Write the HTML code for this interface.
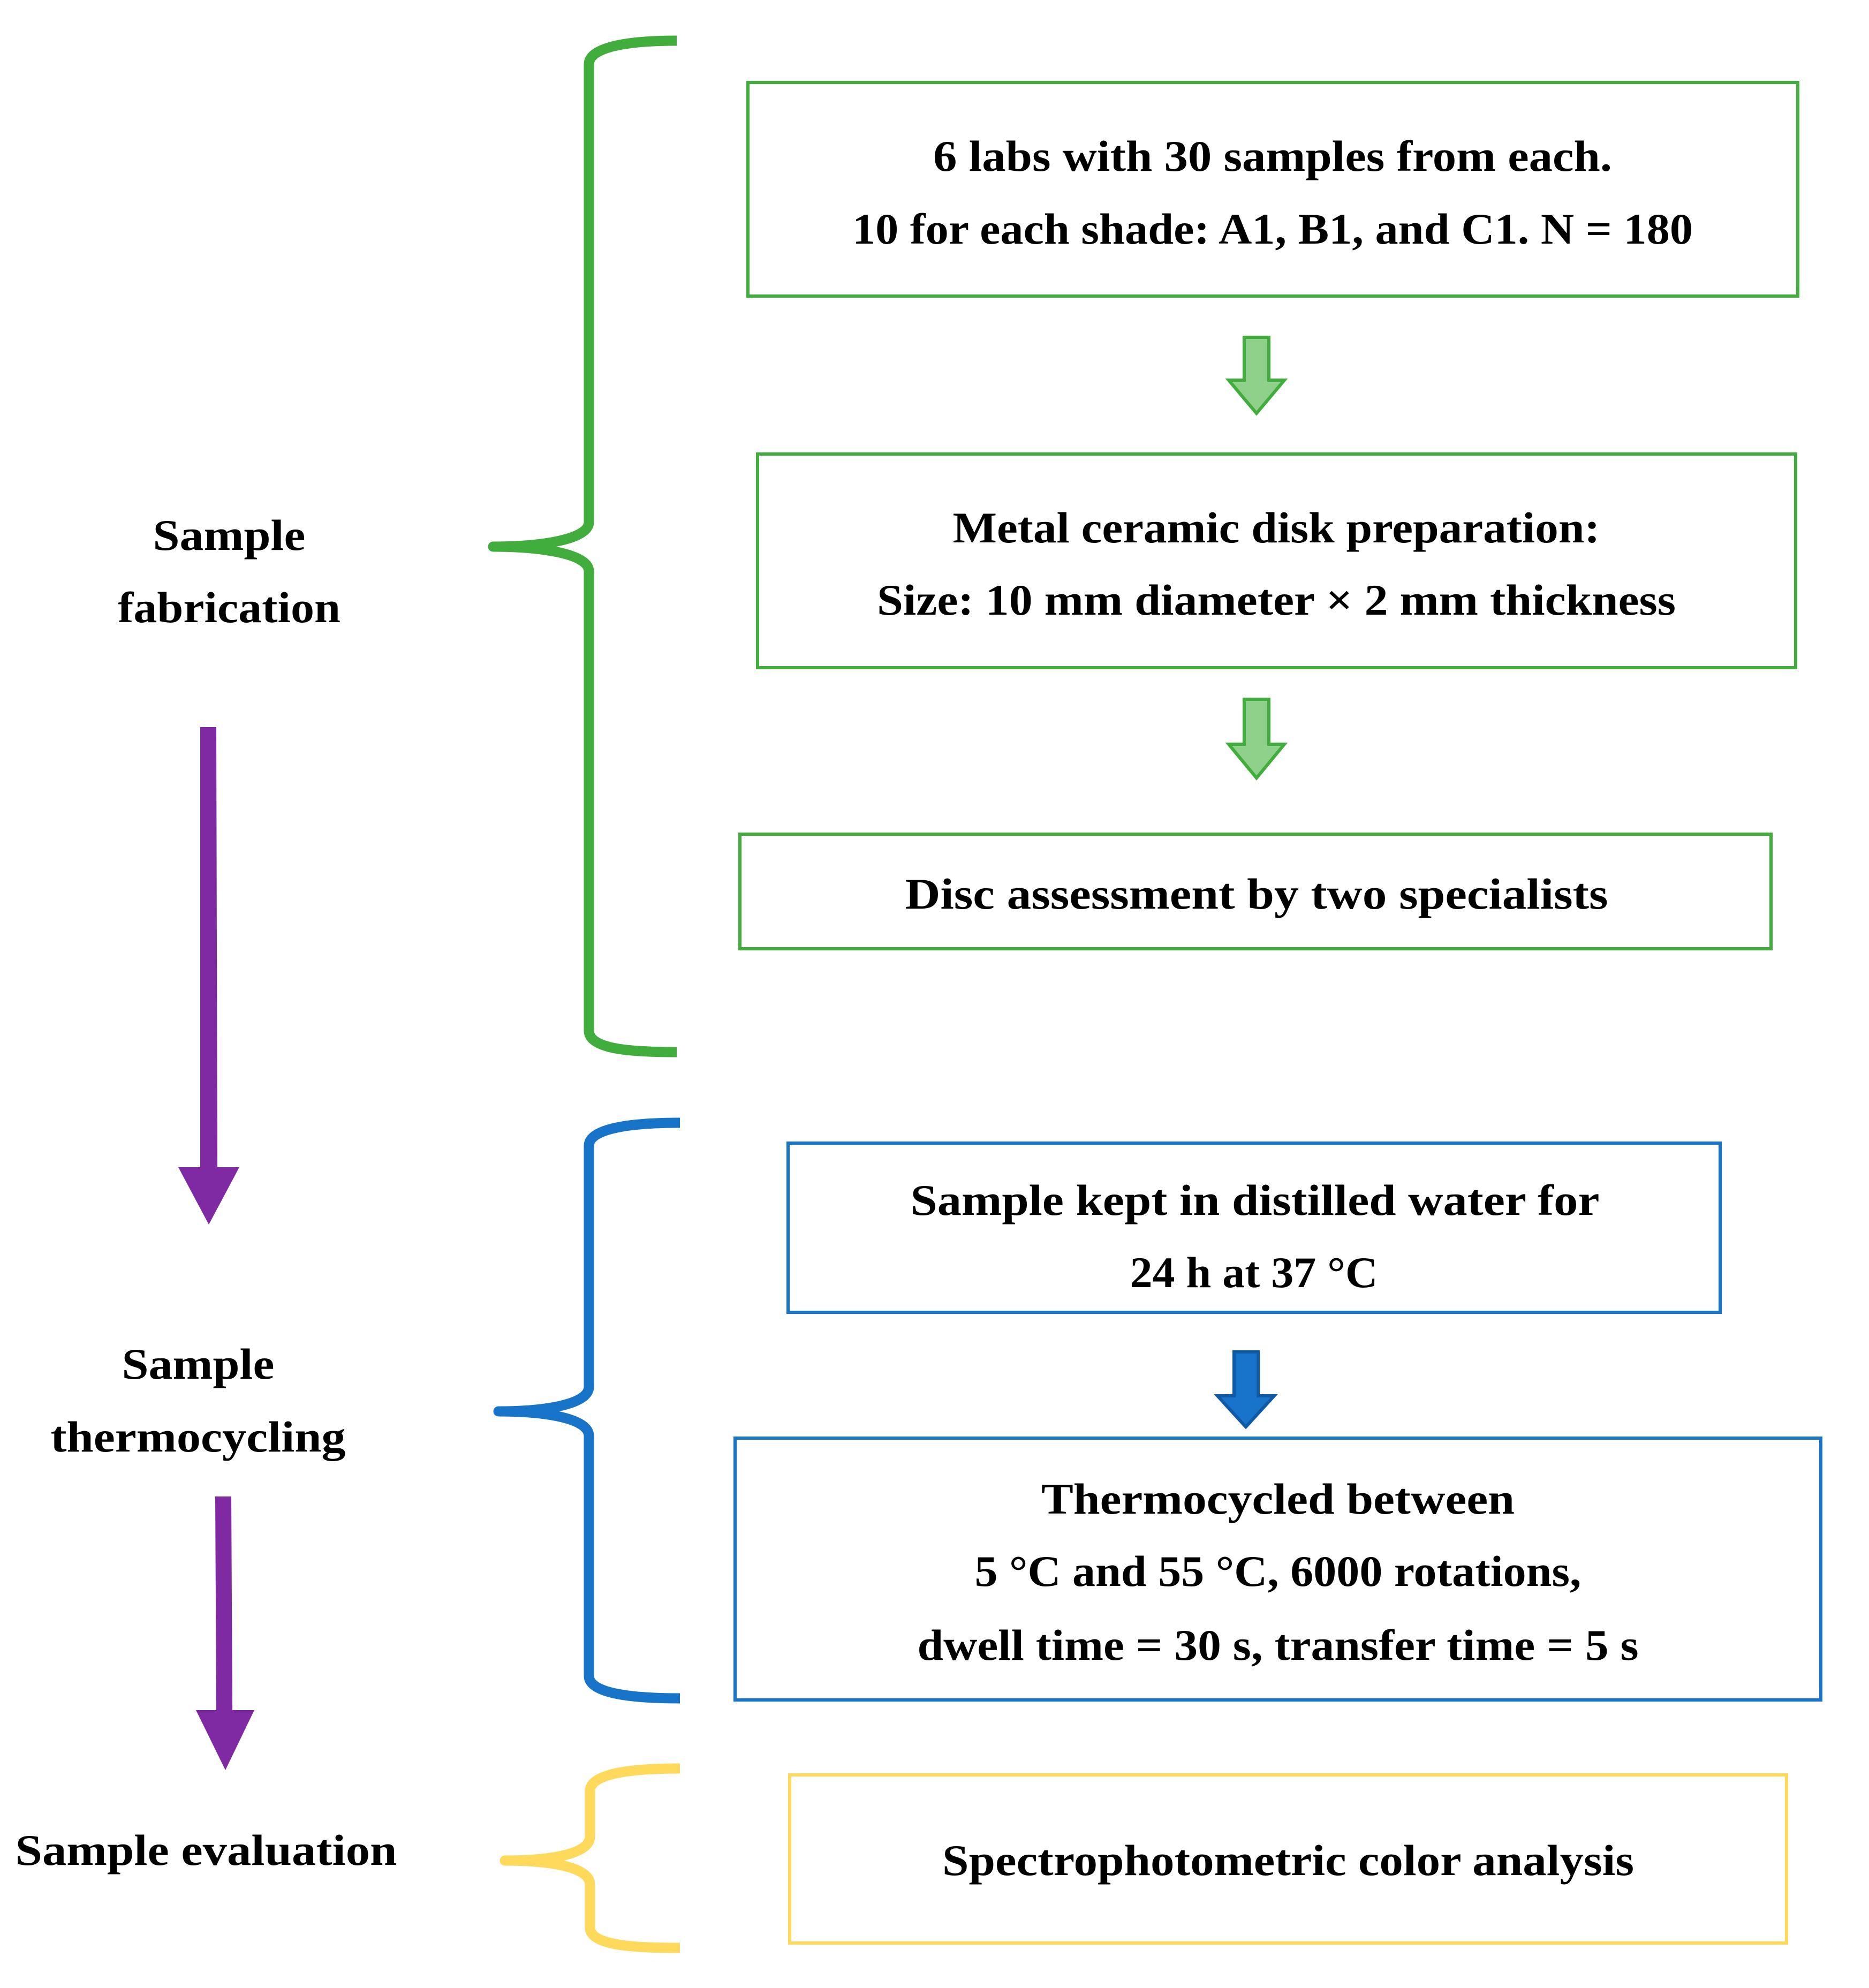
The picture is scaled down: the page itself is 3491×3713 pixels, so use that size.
<!DOCTYPE html>
<html><head><meta charset="utf-8"><style>html,body{margin:0;padding:0;background:#fff}svg{display:block}</style></head>
<body>
<svg width="3491" height="3713" viewBox="0 0 3491 3713" xmlns="http://www.w3.org/2000/svg" font-family="'Liberation Serif', serif" font-weight="bold" font-size="82" text-anchor="middle">
<!-- braces -->
<g fill="none" stroke-width="19" stroke-linejoin="round">
<path d="M1264,76 C1180,76 1100,86 1100,120 L1100,975 C1100,1010 1000,1021 921,1021 C1000,1021 1100,1032 1100,1067 L1100,1925 C1100,1960 1180,1965 1264,1965" stroke="#41ad3c"/>
<path d="M1270,2097 C1190,2097 1100,2105 1100,2140 L1100,2590 C1100,2625 1010,2636 931,2636 C1010,2636 1100,2647 1100,2682 L1100,3130 C1100,3165 1190,3172 1270,3172" stroke="#1874c9"/>
<path d="M1270,3303 C1190,3303 1102,3310 1102,3345 L1102,3430 C1102,3465 1020,3475 943,3475 C1020,3475 1102,3485 1102,3520 L1102,3600 C1102,3635 1190,3638 1270,3638" stroke="#ffd95c"/>
</g>
<!-- boxes -->
<g fill="none" stroke-width="6">
<rect x="1397" y="154" width="1961" height="399" stroke="#41ad3c"/>
<rect x="1415" y="848" width="1939" height="399" stroke="#41ad3c"/>
<rect x="1382" y="1558" width="1926" height="214" stroke="#41ad3c"/>
<rect x="1472" y="2135" width="1741" height="316" stroke="#1874c9"/>
<rect x="1373" y="2686" width="2028" height="489" stroke="#1874c9"/>
<rect x="1475" y="3315" width="1862" height="314" stroke="#ffd95c"/>
</g>
<!-- block arrows -->
<path d="M2324,630 L2370,630 L2370,710 L2399,710 L2347,772 L2295,710 L2324,710 Z" fill="#8fd18a" stroke="#41ad3c" stroke-width="6"/>
<path d="M2324,1306 L2370,1306 L2370,1390 L2399,1390 L2347,1453 L2295,1390 L2324,1390 Z" fill="#8fd18a" stroke="#41ad3c" stroke-width="6"/>
<path d="M2305,2525 L2350,2525 L2350,2607 L2380,2607 L2327,2665 L2274,2607 L2305,2607 Z" fill="#1874c9" stroke="#0f5aa6" stroke-width="6"/>
<!-- purple arrows -->
<path d="M374,1358 L404,1358 L406,2180 L447,2180 L390,2287 L333,2180 L374,2180 Z" fill="#7f2aa3"/>
<path d="M402,2795 L432,2795 L434,3194 L475,3194 L421,3306 L366,3194 L404,3194 Z" fill="#7f2aa3"/>
<!-- text -->
<g lengthAdjust="spacingAndGlyphs">
<text x="2377" y="319" textLength="1268" lengthAdjust="spacingAndGlyphs">6 labs with 30 samples from each.</text>
<text x="2377" y="455" textLength="1570" lengthAdjust="spacingAndGlyphs">10 for each shade: A1, B1, and C1. N = 180</text>
<text x="2384" y="1013" textLength="1209" lengthAdjust="spacingAndGlyphs">Metal ceramic disk preparation:</text>
<text x="2384" y="1148" textLength="1492" lengthAdjust="spacingAndGlyphs">Size: 10 mm diameter × 2 mm thickness</text>
<text x="2347" y="1697" textLength="1313" lengthAdjust="spacingAndGlyphs">Disc assessment by two specialists</text>
<text x="2344" y="2269" textLength="1287" lengthAdjust="spacingAndGlyphs">Sample kept in distilled water for</text>
<text x="2342" y="2404" textLength="463" lengthAdjust="spacingAndGlyphs">24 h at 37 °C</text>
<text x="2387" y="2827" textLength="884" lengthAdjust="spacingAndGlyphs">Thermocycled between</text>
<text x="2387" y="2962" textLength="1133" lengthAdjust="spacingAndGlyphs">5 °C and 55 °C, 6000 rotations,</text>
<text x="2387" y="3100" textLength="1347" lengthAdjust="spacingAndGlyphs">dwell time = 30 s, transfer time = 5 s</text>
<text x="2406" y="3502" textLength="1292" lengthAdjust="spacingAndGlyphs">Spectrophotometric color analysis</text>
<text x="428" y="1027" textLength="285" lengthAdjust="spacingAndGlyphs">Sample</text>
<text x="428" y="1162" textLength="416" lengthAdjust="spacingAndGlyphs">fabrication</text>
<text x="370" y="2575" textLength="285" lengthAdjust="spacingAndGlyphs">Sample</text>
<text x="370" y="2711" textLength="551" lengthAdjust="spacingAndGlyphs">thermocycling</text>
<text x="385" y="3483" textLength="713" lengthAdjust="spacingAndGlyphs">Sample evaluation</text>
</g>
</svg>
</body></html>
